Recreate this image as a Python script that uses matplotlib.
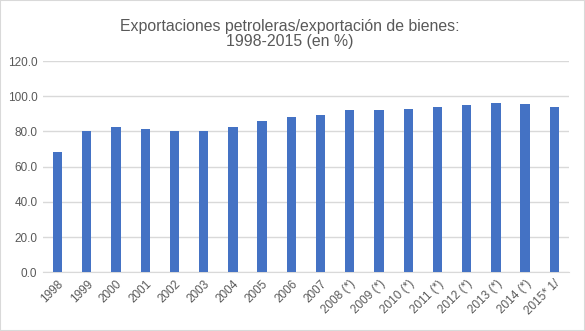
import matplotlib
matplotlib.use("Agg")
import matplotlib.pyplot as plt
import numpy as np

# datos
anios = ['1998', '1999', '2000', '2001', '2002', '2003', '2004', '2005', '2006',
         '2007', '2008 (*)', '2009 (*)', '2010 (*)', '2011 (*)', '2012 (*)',
         '2013 (*)', '2014 (*)', '2015* 1/']
porcentaje = [68.5, 80.0, 82.6, 81.5, 80.4, 80.4, 82.6, 86.0, 88.3,
              89.4, 92.2, 92.2, 92.8, 94.0, 95.1, 96.2, 95.7, 94.0]
ticks_y = [0, 20, 40, 60, 80, 100, 120]

plt.rcParams['font.family'] = ['Liberation Sans', 'DejaVu Sans']

fig = plt.figure(figsize=(5.85, 3.31), dpi=100)
ax = fig.add_axes([0.0735, 0.1773, 0.899, 0.6384])

x = np.arange(len(anios))
ax.bar(x, porcentaje, width=0.32, color='#4472c4', zorder=3)

ax.set_ylim(0, 120)
ax.set_xlim(-0.5, len(anios) - 0.5)
ax.set_yticks(ticks_y)
ax.set_yticklabels([f'{v:.1f}' for v in ticks_y], fontsize=8.5, color='#595959')
ax.set_xticks(x)
ax.set_xticklabels(anios, rotation=45, ha='right', rotation_mode='anchor',
                   fontsize=8.5, color='#595959')
ax.tick_params(length=0, pad=4)
ax.grid(axis='y', color='#d9d9d9', linewidth=1, zorder=0)
for lado in ['top', 'right', 'left']:
    ax.spines[lado].set_visible(False)
ax.spines['bottom'].set_color('#d9d9d9')

fig.text(0.4957, 0.897, 'Exportaciones petroleras/exportación de bienes:\n1998-2015 (en %)',
         ha='center', va='center', fontsize=11.4, color='#595959', linespacing=1.0)

# borde del grafico
fig.patches.append(plt.Rectangle((0, 0), 1, 1, transform=fig.transFigure,
                                 fill=False, edgecolor='#d9d9d9', linewidth=1.5))

fig.savefig('out.png', dpi=100)
